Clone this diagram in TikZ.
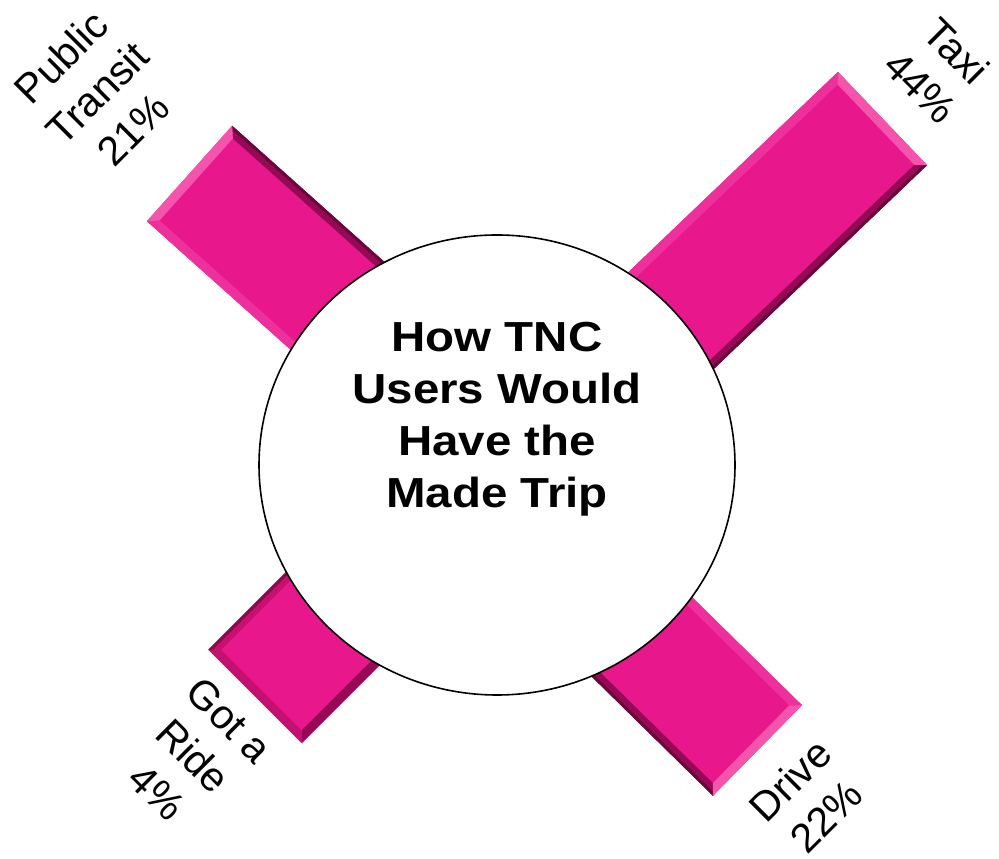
\documentclass[tikz,border=0pt]{standalone}
\usepackage{fontspec}
\setmainfont{Liberation Sans}
\usetikzlibrary{shapes.geometric}
\definecolor{pinkmain}{RGB}{232,24,140}
\definecolor{pinklight}{RGB}{244,84,172}
\definecolor{pinksoft}{RGB}{238,48,156}
\definecolor{pinkmid}{RGB}{196,16,110}
\definecolor{pinkdark}{RGB}{150,10,85}
\tikzset{
  pics/pinkbar/.style n args={5}{code={
    \fill[pinkmain] (-#1,-#2/2) rectangle (0,#2/2);
    \fill[#4] (0,#2/2) -- (-#1,#2/2) -- (-#1,#2/2-9) -- (-9,#2/2-9) -- cycle;
    \fill[#5] (0,-#2/2) -- (-#1,-#2/2) -- (-#1,-#2/2+9) -- (-9,-#2/2+9) -- cycle;
    \fill[#5!70!black] (0,-#2/2) -- (-#1,-#2/2) -- (-#1,-#2/2+3) -- (-3,-#2/2+3) -- cycle;
    \fill[#3] (0,-#2/2) -- (0,#2/2) -- (-9,#2/2-9) -- (-9,-#2/2+9) -- cycle;
  }},
  lbl/.style={font=\fontsize{41}{51}\selectfont, align=center, inner sep=0pt},
  hubtitle/.style={font=\bfseries\fontsize{42}{52}\selectfont, align=center, inner sep=0pt, xscale=1.13}
}
\begin{document}
\begin{tikzpicture}[x=1pt,y=1pt]
\useasboundingbox (0,0) rectangle (999,859);
% bars
\pic[rotate=43.7] at (882.5,740.5) {pinkbar={400}{129}{pinklight}{pinksoft}{pinkdark}};
\pic[rotate=138.2] at (189.5,685.5) {pinkbar={350}{128}{pinklight}{pinksoft}{pinkdark}};
\pic[rotate=225] at (255,162.5) {pinkbar={260}{132}{pinkmid}{pinkdark}{pinkmid}};
\pic[rotate=-44.5] at (757.5,108.5) {pinkbar={290}{127}{pinklight}{pinksoft}{pinkdark}};
% hub
\node[draw=black, line width=1.6pt, fill=white, ellipse, minimum width=476pt, minimum height=460pt, inner sep=0pt] (hub) at (497,394) {};
\node[hubtitle] (title) at (497,440) {How TNC\\Users Would\\Have the\\Made Trip};
% labels
\node[lbl, rotate=45] (transit) at (97,766) {Public\\Transit\\21\%};
\node[lbl, rotate=-45] (taxi) at (939,790) {Taxi\\44\%};
\node[lbl, rotate=45] (drive) at (808,61) {Drive\\22\%};
\node[lbl, rotate=-45] (ride) at (193,103) {Got a\\Ride\\4\%};
\end{tikzpicture}
\end{document}
